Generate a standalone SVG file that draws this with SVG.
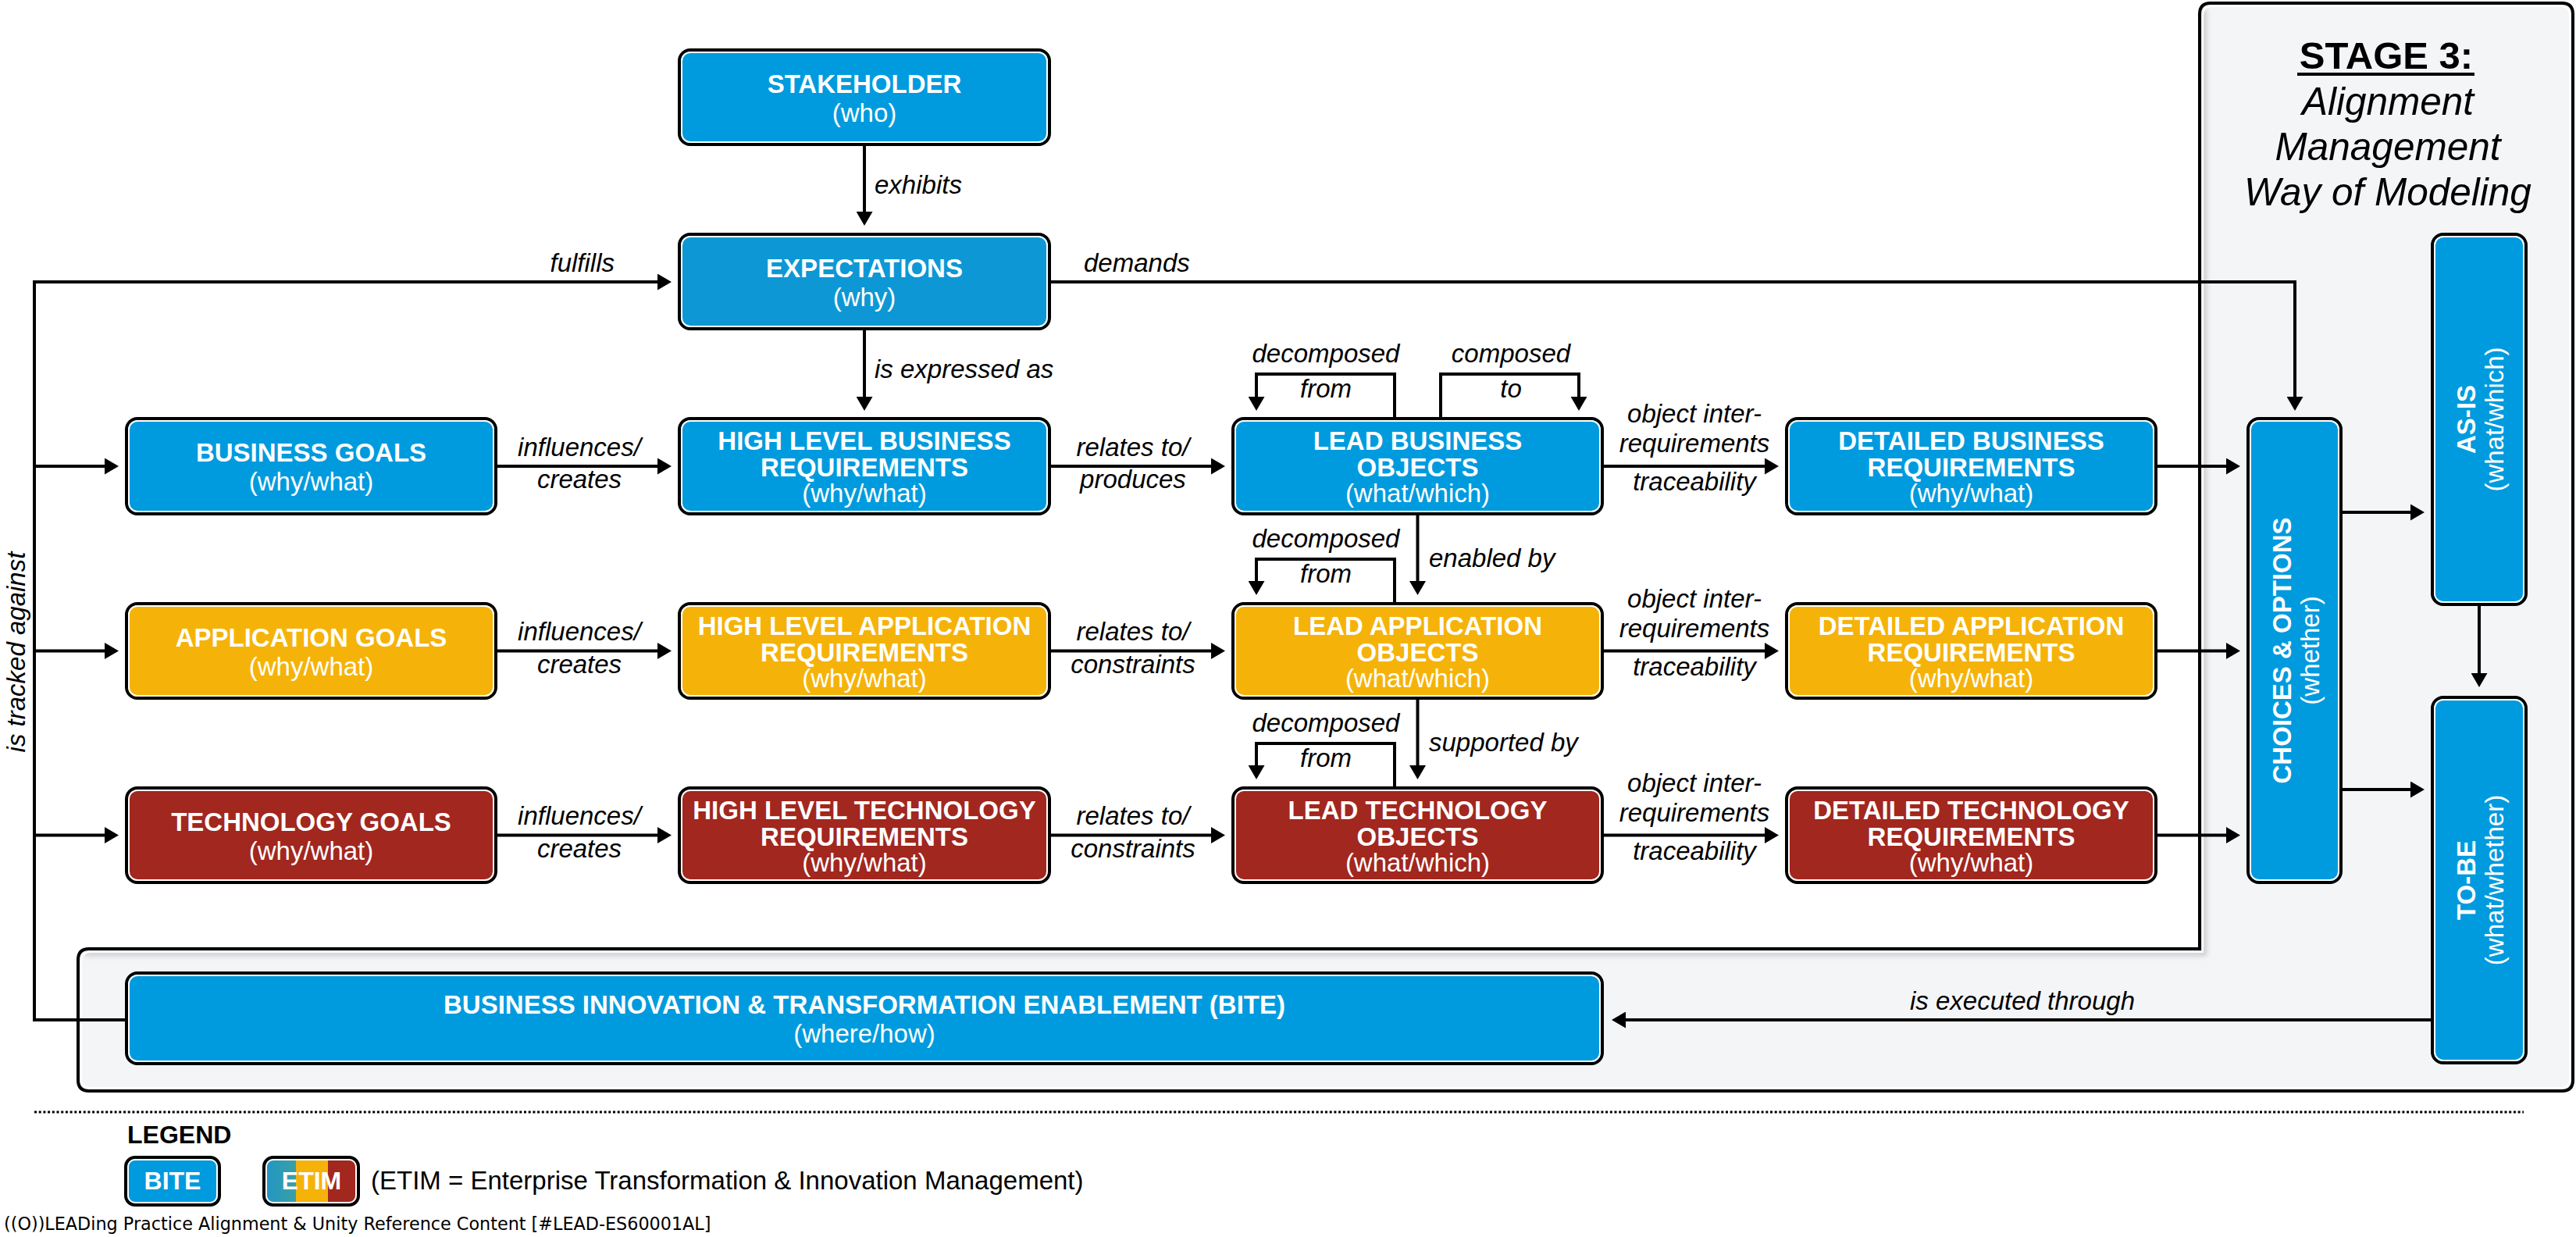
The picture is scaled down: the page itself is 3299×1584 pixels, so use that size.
<svg xmlns="http://www.w3.org/2000/svg" width="3299" height="1584" viewBox="0 0 3299 1584">
<style>
.nb{stroke:#000;stroke-width:4}
.ni{fill:none;stroke:#fff;stroke-width:2}
.blue{fill:#009BDE}
.exp{fill:#0D98D5}
.yel{fill:#F5B30A}
.red{fill:#A1271F}
.t{font-family:"Liberation Sans",Arial,sans-serif;font-size:33px;fill:#fff;text-anchor:middle}
.b{font-weight:bold}
.lbl{font-family:"Liberation Sans",Arial,sans-serif;font-size:33px;font-style:italic;fill:#000}
.m{text-anchor:middle}
.c{fill:none;stroke:#000;stroke-width:4;marker-end:url(#ah)}
.cl{fill:none;stroke:#000;stroke-width:4}
</style>
<defs>
<marker id="ah" markerUnits="userSpaceOnUse" viewBox="0 0 18 21" markerWidth="18" markerHeight="21" refX="4" refY="10.5" orient="auto"><path d="M0,0 L18,10.5 L0,21 Z" fill="#000"/></marker>
<linearGradient id="teal" x1="0" y1="0" x2="1" y2="0"><stop offset="0" stop-color="#1F95C8"/><stop offset="1" stop-color="#3AA0A6"/></linearGradient>
<clipPath id="etimclip"><rect x="338" y="1482" width="121" height="61" rx="12"/></clipPath>
<filter id="sh" x="-5%" y="-5%" width="110%" height="110%"><feGaussianBlur stdDeviation="3"/></filter>
</defs>
<rect width="3299" height="1584" fill="#fff"/>

<g id="stage-panel">
<path d="M2831,4 H3281 Q3295,4 3295,18 V1383 Q3295,1397 3281,1397 H114 Q100,1397 100,1383 V1229 Q100,1215 114,1215 H2817 V18 Q2817,4 2831,4 Z" fill="#F4F5F7" stroke="#000" stroke-width="4"/>
<path d="M2823,12 V1221 H108" fill="none" stroke="#000" stroke-opacity="0.18" stroke-width="6" filter="url(#sh)"/>
<path d="M2833,8 H3279 Q3291,8 3291,20 V1381 Q3291,1393 3279,1393 H116 Q104,1393 104,1381 V1231 Q104,1219 116,1219 H2821 V20 Q2821,8 2833,8 Z" fill="none" stroke="#fff" stroke-width="2"/>
<text x="3056" y="88" class="lbl m" style="font-style:normal;font-weight:bold;font-size:49px">STAGE 3:</text>
<rect x="2942" y="93" width="227" height="4" fill="#000"/>
<text x="3058" y="147" class="lbl m" style="font-size:49.5px">Alignment</text>
<text x="3058" y="205" class="lbl m" style="font-size:49.5px">Management</text>
<text x="3058" y="263" class="lbl m" style="font-size:49.5px">Way of Modeling</text>
</g>

<g id="connectors">
<path class="c" d="M1107,187 V275"/>
<path class="c" d="M1107,423 V512"/>
<path class="c" d="M1346,361 H2939 V512"/>
<path class="c" d="M161,1306 H44 V361 H846"/>
<path class="c" d="M44,597 H138"/>
<path class="c" d="M44,833.5 H138"/>
<path class="c" d="M44,1069.5 H138"/>
<path class="c" d="M637,597 H846"/>
<path class="c" d="M637,833.5 H846"/>
<path class="c" d="M637,1069.5 H846"/>
<path class="c" d="M1346,597 H1555"/>
<path class="c" d="M1346,833.5 H1555"/>
<path class="c" d="M1346,1069.5 H1555"/>
<path class="c" d="M2054,597 H2264"/>
<path class="c" d="M2054,833.5 H2264"/>
<path class="c" d="M2054,1069.5 H2264"/>
<path class="c" d="M2763,597 H2855"/>
<path class="c" d="M2763,833.5 H2855"/>
<path class="c" d="M2763,1069.5 H2855"/>
<path class="c" d="M1786,534 V479 H1609 V512"/>
<path class="c" d="M1845,534 V479 H2022 V512"/>
<path class="c" d="M1786,771 V716 H1609 V748"/>
<path class="c" d="M1786,1007 V952 H1609 V984"/>
<path class="c" d="M1815.5,660 V748"/>
<path class="c" d="M1815.5,896 V984"/>
<path class="c" d="M3000,656 H3091"/>
<path class="c" d="M3000,1011 H3091"/>
<path class="c" d="M3175,776 V866"/>
<path class="c" d="M3113,1306 H2078"/>
<text class="lbl" x="1120" y="248">exhibits</text>
<text class="lbl" x="1120" y="484">is expressed as</text>
<text class="lbl" x="787" y="348" text-anchor="end">fulfills</text>
<text class="lbl" x="1388" y="348">demands</text>
<text class="lbl m" x="742" y="583.5">influences/</text>
<text class="lbl m" x="742" y="625">creates</text>
<text class="lbl m" x="742" y="820">influences/</text>
<text class="lbl m" x="742" y="861.5">creates</text>
<text class="lbl m" x="742" y="1056">influences/</text>
<text class="lbl m" x="742" y="1097.5">creates</text>
<text class="lbl m" x="1451" y="583.5">relates to/</text>
<text class="lbl m" x="1451" y="625">produces</text>
<text class="lbl m" x="1451" y="820">relates to/</text>
<text class="lbl m" x="1451" y="861.5">constraints</text>
<text class="lbl m" x="1451" y="1056">relates to/</text>
<text class="lbl m" x="1451" y="1097.5">constraints</text>
<text class="lbl m" x="2170" y="541">object inter-</text>
<text class="lbl m" x="2170" y="579">requirements</text>
<text class="lbl m" x="2170" y="628">traceability</text>
<text class="lbl m" x="2170" y="777.5">object inter-</text>
<text class="lbl m" x="2170" y="815.5">requirements</text>
<text class="lbl m" x="2170" y="864.5">traceability</text>
<text class="lbl m" x="2170" y="1013.5">object inter-</text>
<text class="lbl m" x="2170" y="1051.5">requirements</text>
<text class="lbl m" x="2170" y="1100.5">traceability</text>
<text class="lbl m" x="1698" y="464">decomposed</text>
<text class="lbl m" x="1698" y="509">from</text>
<text class="lbl m" x="1935" y="464">composed</text>
<text class="lbl m" x="1935" y="509">to</text>
<text class="lbl m" x="1698" y="701">decomposed</text>
<text class="lbl m" x="1698" y="746">from</text>
<text class="lbl m" x="1698" y="937">decomposed</text>
<text class="lbl m" x="1698" y="982">from</text>
<text class="lbl" x="1830" y="726">enabled by</text>
<text class="lbl" x="1830" y="962">supported by</text>
<text class="lbl m" x="2590" y="1293">is executed through</text>
<text class="lbl m" transform="translate(32,835) rotate(-90)">is tracked against</text>
</g>

<g id="stakeholder">
<rect class="nb blue" x="870" y="64" width="474" height="121" rx="14"/>
<rect class="ni" x="873" y="67" width="468" height="115" rx="11"/>
<text class="t b" x="1107" y="118.5">STAKEHOLDER</text>
<text class="t" x="1107" y="155.5">(who)</text>
</g>
<g id="expectations">
<rect class="nb exp" x="870" y="300" width="474" height="121" rx="14"/>
<rect class="ni" x="873" y="303" width="468" height="115" rx="11"/>
<text class="t b" x="1107" y="354.5">EXPECTATIONS</text>
<text class="t" x="1107" y="391.5">(why)</text>
</g>

<g id="business-goals">
<rect class="nb blue" x="162" y="536" width="473" height="122" rx="14"/>
<rect class="ni" x="165" y="539" width="467" height="116" rx="11"/>
<text class="t b" x="398.5" y="591">BUSINESS GOALS</text>
<text class="t" x="398.5" y="628">(why/what)</text>
</g>
<g id="hl-business-requirements">
<rect class="nb blue" x="870" y="536" width="474" height="122" rx="14"/>
<rect class="ni" x="873" y="539" width="468" height="116" rx="11"/>
<text class="t b" x="1107" y="576">HIGH LEVEL BUSINESS</text>
<text class="t b" x="1107" y="610">REQUIREMENTS</text>
<text class="t" x="1107" y="643">(why/what)</text>
</g>
<g id="lead-business-objects">
<rect class="nb blue" x="1579" y="536" width="473" height="122" rx="14"/>
<rect class="ni" x="1582" y="539" width="467" height="116" rx="11"/>
<text class="t b" x="1815.5" y="576">LEAD BUSINESS</text>
<text class="t b" x="1815.5" y="610">OBJECTS</text>
<text class="t" x="1815.5" y="643">(what/which)</text>
</g>
<g id="detailed-business-requirements">
<rect class="nb blue" x="2288" y="536" width="473" height="122" rx="14"/>
<rect class="ni" x="2291" y="539" width="467" height="116" rx="11"/>
<text class="t b" x="2524.5" y="576">DETAILED BUSINESS</text>
<text class="t b" x="2524.5" y="610">REQUIREMENTS</text>
<text class="t" x="2524.5" y="643">(why/what)</text>
</g>

<g id="application-goals">
<rect class="nb yel" x="162" y="773" width="473" height="121" rx="14"/>
<rect class="ni" x="165" y="776" width="467" height="115" rx="11"/>
<text class="t b" x="398.5" y="827.5">APPLICATION GOALS</text>
<text class="t" x="398.5" y="864.5">(why/what)</text>
</g>
<g id="hl-application-requirements">
<rect class="nb yel" x="870" y="773" width="474" height="121" rx="14"/>
<rect class="ni" x="873" y="776" width="468" height="115" rx="11"/>
<text class="t b" x="1107" y="812.5">HIGH LEVEL APPLICATION</text>
<text class="t b" x="1107" y="846.5">REQUIREMENTS</text>
<text class="t" x="1107" y="879.5">(why/what)</text>
</g>
<g id="lead-application-objects">
<rect class="nb yel" x="1579" y="773" width="473" height="121" rx="14"/>
<rect class="ni" x="1582" y="776" width="467" height="115" rx="11"/>
<text class="t b" x="1815.5" y="812.5">LEAD APPLICATION</text>
<text class="t b" x="1815.5" y="846.5">OBJECTS</text>
<text class="t" x="1815.5" y="879.5">(what/which)</text>
</g>
<g id="detailed-application-requirements">
<rect class="nb yel" x="2288" y="773" width="473" height="121" rx="14"/>
<rect class="ni" x="2291" y="776" width="467" height="115" rx="11"/>
<text class="t b" x="2524.5" y="812.5">DETAILED APPLICATION</text>
<text class="t b" x="2524.5" y="846.5">REQUIREMENTS</text>
<text class="t" x="2524.5" y="879.5">(why/what)</text>
</g>

<g id="technology-goals">
<rect class="nb red" x="162" y="1009" width="473" height="121" rx="14"/>
<rect class="ni" x="165" y="1012" width="467" height="115" rx="11"/>
<text class="t b" x="398.5" y="1063.5">TECHNOLOGY GOALS</text>
<text class="t" x="398.5" y="1100.5">(why/what)</text>
</g>
<g id="hl-technology-requirements">
<rect class="nb red" x="870" y="1009" width="474" height="121" rx="14"/>
<rect class="ni" x="873" y="1012" width="468" height="115" rx="11"/>
<text class="t b" x="1107" y="1048.5">HIGH LEVEL TECHNOLOGY</text>
<text class="t b" x="1107" y="1082.5">REQUIREMENTS</text>
<text class="t" x="1107" y="1115.5">(why/what)</text>
</g>
<g id="lead-technology-objects">
<rect class="nb red" x="1579" y="1009" width="473" height="121" rx="14"/>
<rect class="ni" x="1582" y="1012" width="467" height="115" rx="11"/>
<text class="t b" x="1815.5" y="1048.5">LEAD TECHNOLOGY</text>
<text class="t b" x="1815.5" y="1082.5">OBJECTS</text>
<text class="t" x="1815.5" y="1115.5">(what/which)</text>
</g>
<g id="detailed-technology-requirements">
<rect class="nb red" x="2288" y="1009" width="473" height="121" rx="14"/>
<rect class="ni" x="2291" y="1012" width="467" height="115" rx="11"/>
<text class="t b" x="2524.5" y="1048.5">DETAILED TECHNOLOGY</text>
<text class="t b" x="2524.5" y="1082.5">REQUIREMENTS</text>
<text class="t" x="2524.5" y="1115.5">(why/what)</text>
</g>

<g id="choices-options">
<rect class="nb blue" x="2879" y="536" width="119" height="594" rx="14"/>
<rect class="ni" x="2882" y="539" width="113" height="588" rx="11"/>
<text class="t" transform="translate(2938.5,833) rotate(-90)"><tspan class="b" x="0" y="-5">CHOICES &amp; OPTIONS</tspan><tspan x="0" y="31">(whether)</tspan></text>
</g>
<g id="as-is">
<rect class="nb blue" x="3115" y="300" width="120" height="474" rx="14"/>
<rect class="ni" x="3118" y="303" width="114" height="468" rx="11"/>
<text class="t" transform="translate(3175,537) rotate(-90)"><tspan class="b" x="0" y="-5">AS-IS</tspan><tspan x="0" y="31">(what/which)</tspan></text>
</g>
<g id="to-be">
<rect class="nb blue" x="3115" y="893" width="120" height="468" rx="14"/>
<rect class="ni" x="3118" y="896" width="114" height="462" rx="11"/>
<text class="t" transform="translate(3175,1127) rotate(-90)"><tspan class="b" x="0" y="-5">TO-BE</tspan><tspan x="0" y="31">(what/whether)</tspan></text>
</g>

<g id="bite">
<rect class="nb blue" x="162" y="1246" width="1890" height="116" rx="14"/>
<rect class="ni" x="165" y="1249" width="1884" height="110" rx="11"/>
<text class="t b" x="1107" y="1298">BUSINESS INNOVATION &amp; TRANSFORMATION ENABLEMENT (BITE)</text>
<text class="t" x="1107" y="1335">(where/how)</text>
</g>

<g id="legend">
<line x1="44" y1="1424" x2="3232" y2="1424" stroke="#000" stroke-width="3" stroke-dasharray="3 2.7"/>
<text class="lbl b" x="163" y="1464" style="font-style:normal;font-size:32px">LEGEND</text>
<g id="legend-bite">
<rect class="nb blue" x="161" y="1482" width="120" height="61" rx="12"/>
<rect class="ni" x="164" y="1485" width="114" height="55" rx="9"/>
<text class="t b" x="221" y="1523" style="font-size:32px">BITE</text>
</g>
<g id="legend-etim">
<g clip-path="url(#etimclip)">
<rect x="336" y="1480" width="43" height="65" fill="url(#teal)"/>
<rect x="379" y="1480" width="41" height="65" fill="#F5B30A"/>
<rect x="420" y="1480" width="41" height="65" fill="#A1271F"/>
</g>
<rect x="338" y="1482" width="121" height="61" rx="12" fill="none" stroke="#000" stroke-width="4"/>
<rect class="ni" x="341" y="1485" width="115" height="55" rx="9"/>
<text class="t b" x="399" y="1523" style="font-size:32px">ETIM</text>
</g>
<text class="lbl" x="475" y="1523" style="font-style:normal">(ETIM = Enterprise Transformation &amp; Innovation Management)</text>
<text x="5" y="1575" style="font-family:'DejaVu Sans',sans-serif;font-size:22.3px;fill:#000">((O))LEADing Practice Alignment &amp; Unity Reference Content [#LEAD-ES60001AL]</text>
</g>
</svg>
